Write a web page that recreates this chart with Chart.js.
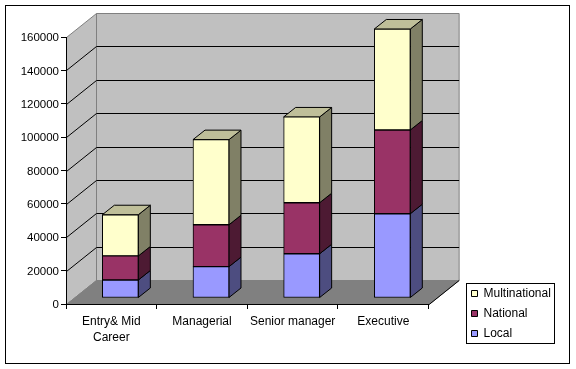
<!DOCTYPE html>
<html>
<head>
<meta charset="utf-8">
<style>html,body{margin:0;padding:0;background:#fff}canvas{display:block}</style>
<script src="https://cdn.jsdelivr.net/npm/chart.js@4"></script>
</head>
<body>
<canvas id="c" width="576" height="369"></canvas>
<script>
const categories = [['Entry& Mid','Career'],'Managerial','Senior manager','Executive'];
const localValues = [10800, 18800, 26500, 50500];
const nationalValues = [14400, 25100, 30600, 50200];
const multinationalValues = [24700, 51000, 51400, 60500];
const tickStep = 20000;
const axisMax = 160000;

const FONT = 'Arial, "Liberation Sans", sans-serif';
const WALL_DX = 30, WALL_DY = 24;      // depth of the plot box
const BAR_SHIFT_X = 9, BAR_SHIFT_Y = -6; // bars stand inside the floor
const BAR_DX = 12, BAR_DY = 9.5;       // depth of each bar

function poly(ctx, pts, fill, stroke) {
  ctx.beginPath();
  pts.forEach((p, i) => i ? ctx.lineTo(p[0], p[1]) : ctx.moveTo(p[0], p[1]));
  ctx.closePath();
  if (fill) { ctx.fillStyle = fill; ctx.fill(); }
  if (stroke) { ctx.strokeStyle = stroke; ctx.lineWidth = 1; ctx.stroke(); }
}

const box3d = {
  id: 'box3d',
  afterLayout(chart) {
    const l = chart.legend;
    const w = l.width, h = l.height;
    l.left = 463.5; l.right = l.left + w;
    l.top = 279.5; l.bottom = l.top + h;
  },
  beforeDraw(chart) {
    const {ctx, chartArea: a, scales: {y}} = chart;
    const L = a.left + 0.5, R = a.right + 0.5, T = a.top + 0.5, B = a.bottom + 0.5;
    ctx.save();
    ctx.fillStyle = '#fff';
    ctx.fillRect(0, 0, chart.width, chart.height);
    ctx.strokeStyle = '#000'; ctx.lineWidth = 1;
    ctx.strokeRect(5.5, 5.5, 564, 358);
    // walls and floor
    poly(ctx, [[L + WALL_DX, T - WALL_DY], [R + WALL_DX, T - WALL_DY], [R + WALL_DX, B - WALL_DY], [L + WALL_DX, B - WALL_DY]], '#C0C0C0', '#808080');
    poly(ctx, [[L, T], [L + WALL_DX, T - WALL_DY], [L + WALL_DX, B - WALL_DY], [L, B]], '#C0C0C0', '#808080');
    poly(ctx, [[L, B], [R, B], [R + WALL_DX, B - WALL_DY], [L + WALL_DX, B - WALL_DY]], '#808080', '#808080');
    // gridlines
    ctx.strokeStyle = '#000';
    ctx.beginPath();
    for (let v = tickStep; v < axisMax; v += tickStep) {
      const py = Math.round(y.getPixelForValue(v)) + 0.5;
      ctx.moveTo(L, py);
      ctx.lineTo(L + WALL_DX, py - WALL_DY);
      ctx.lineTo(R + WALL_DX, py - WALL_DY);
    }
    ctx.moveTo(R, B);
    ctx.lineTo(R + WALL_DX, B - WALL_DY);
    ctx.stroke();
    ctx.restore();
  },
  beforeDatasetsDraw(chart) {
    const ctx = chart.ctx;
    ctx.save();
    ctx.translate(BAR_SHIFT_X, BAR_SHIFT_Y);
    const sets = chart.data.datasets;
    sets.forEach((ds, i) => {
      chart.getDatasetMeta(i).data.forEach(bar => {
        const p = bar.getProps(['x', 'y', 'base', 'width'], true);
        const r = p.x + p.width / 2, l = p.x - p.width / 2;
        poly(ctx, [[r, p.y], [r + BAR_DX, p.y - BAR_DY], [r + BAR_DX, p.base - BAR_DY], [r, p.base]], ds.sideColor, '#000');
        if (i === sets.length - 1) {
          poly(ctx, [[l, p.y], [l + BAR_DX, p.y - BAR_DY], [r + BAR_DX, p.y - BAR_DY], [r, p.y]], ds.topColor, '#000');
        }
      });
    });
  },
  afterDatasetsDraw(chart) {
    chart.ctx.restore();
  },
  afterDraw(chart) {
    const ctx = chart.ctx;
    ctx.save();
    ctx.strokeStyle = '#000'; ctx.lineWidth = 1;
    ctx.strokeRect(466.5, 283.5, 88, 60);
    ctx.restore();
  }
};

const barStyle = {borderColor: '#000', borderWidth: 1, borderSkipped: false, barThickness: 36, clip: false, stack: 's'};

new Chart(document.getElementById('c'), {
  type: 'bar',
  data: {
    labels: categories,
    datasets: [
      Object.assign({label: 'Local', data: localValues, backgroundColor: '#9999FF', sideColor: '#4D4D80', topColor: '#7373BF'}, barStyle),
      Object.assign({label: 'National', data: nationalValues, backgroundColor: '#993366', sideColor: '#4D1A33', topColor: '#73264D'}, barStyle),
      Object.assign({label: 'Multinational', data: multinationalValues, backgroundColor: '#FFFFCC', sideColor: '#808066', topColor: '#BFBF99'}, barStyle)
    ]
  },
  options: {
    responsive: false,
    animation: false,
    devicePixelRatio: 1,
    layout: {padding: {left: 0, top: 37, right: 50, bottom: 0}},
    scales: {
      x: {
        stacked: true,
        offset: true,
        afterFit(s) { s.height = 65; },
        border: {color: '#000', width: 1},
        grid: {offset: true, drawOnChartArea: false, color: '#000', tickColor: '#000', tickLength: 5},
        ticks: {color: '#000', font: {family: FONT, size: 12, lineHeight: 16 / 12}, padding: 5, maxRotation: 0, autoSkip: false}
      },
      y: {
        stacked: true,
        min: 0,
        max: axisMax,
        afterFit(s) { s.width = 66; },
        border: {color: '#000', width: 1},
        grid: {drawOnChartArea: false, color: '#000', tickColor: '#000', tickLength: 5},
        ticks: {color: '#000', stepSize: tickStep, font: {family: FONT, size: 11.5}, padding: 2, labelOffset: 1, callback: v => String(v)}
      }
    },
    plugins: {
      tooltip: {enabled: false},
      title: {display: false},
      legend: {
        display: true,
        position: 'right',
        align: 'start',
        reverse: true,
        labels: {color: '#000', boxWidth: 6, boxHeight: 6, padding: 8, font: {family: FONT, size: 12, lineHeight: 14 / 12}}
      }
    }
  },
  plugins: [box3d]
});
</script>
</body>
</html>
